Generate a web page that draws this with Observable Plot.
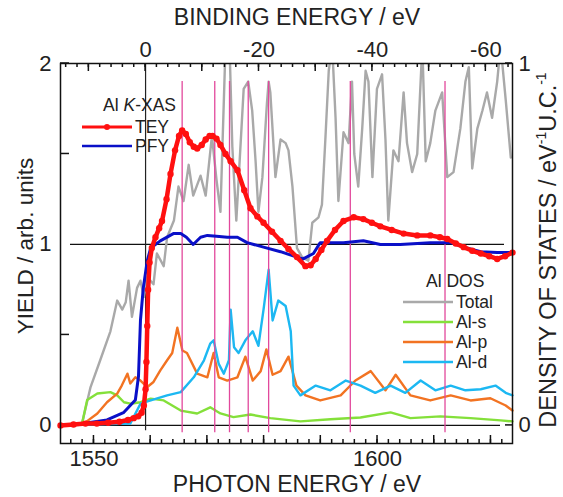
<!DOCTYPE html>
<html>
<head>
<meta charset="utf-8">
<script src="https://cdn.jsdelivr.net/npm/d3@7"></script>
<script src="https://cdn.jsdelivr.net/npm/@observablehq/plot@0.6"></script>
<style>
  body { margin: 0; background: white; }
  #wrap { position: relative; width: 563px; height: 497px; font-family: "Liberation Sans", Arial, sans-serif; color: #222; }
  .lab { position: absolute; white-space: nowrap; line-height: 1; }
  .rot { transform: translate(-50%, -50%) rotate(-90deg); transform-origin: center; }
  .leg { position: absolute; font-size: 17.5px; line-height: 1; white-space: nowrap; }
  .leg svg { position: absolute; overflow: visible; }
</style>
</head>
<body>
<div id="wrap"></div>
<script>
// ---------- data (photon energy in eV) ----------
const E0 = 1559.1;                     // binding energy zero (Fermi level) on photon-energy scale
const xDomain = [1544.1, 1623.8];
const yDomain = [-0.1, 2.0];
const bottomTickLabels = [1550, 1600];
const topTickLabels = [0, -20, -40, -60];
const leftTickLabels = [0, 1, 2];
const rightTickLabels = [0, 1];
const markerLines = [1565.55, 1571.3, 1573.9, 1577.2, 1580.8, 1595.2, 1611.9];

// Al K-XAS, TEY (yield)
const teyE = [1544.1,1546.4,1548.5,1550.5,1552.5,1554.5,1556.0,1557.0,1557.8,1558.4,1558.8,1559.1,1559.25,1559.4,1559.55,1559.8,1560.2,1560.85,1561.5,1562.0,1562.8,1563.5,1564.3,1565.0,1565.55,1566.2,1566.9,1567.6,1568.2,1569.0,1569.7,1570.4,1570.9,1571.6,1572.3,1573.2,1574.1,1575.3,1576.5,1577.6,1578.8,1579.9,1581.4,1582.9,1584.3,1585.8,1587.3,1588.2,1589.1,1590.1,1591.1,1592.5,1594.0,1595.8,1597.5,1599.0,1600.5,1602.5,1604.6,1607.0,1609.3,1611.0,1612.3,1613.8,1615.2,1616.7,1618.2,1619.7,1621.1,1622.5,1623.8];
const teyY = [0.00,0.005,0.01,0.01,0.015,0.02,0.03,0.04,0.05,0.07,0.11,0.20,0.35,0.55,0.75,0.90,0.98,1.04,1.09,1.13,1.25,1.39,1.52,1.60,1.63,1.61,1.565,1.54,1.53,1.55,1.58,1.60,1.60,1.585,1.55,1.50,1.46,1.41,1.30,1.20,1.155,1.12,1.07,1.02,0.975,0.93,0.88,0.885,0.92,0.97,1.02,1.08,1.13,1.15,1.14,1.12,1.10,1.08,1.06,1.05,1.05,1.04,1.03,1.005,0.985,0.965,0.95,0.935,0.92,0.935,0.955];

// Al K-XAS, PFY (yield)
const pfyE = [1544.1,1548.1,1552.3,1555.2,1557.3,1557.85,1558.2,1558.7,1559.4,1560.0,1561.7,1564.0,1565.3,1566.3,1567.5,1568.8,1570.0,1571.6,1573.5,1575.3,1577.0,1579.9,1582.9,1585.8,1586.9,1588.7,1589.9,1591.7,1594.0,1597.5,1600.5,1604.0,1609.3,1612.9,1615.2,1618.2,1621.1,1623.8];
const pfyY = [0.0,0.01,0.03,0.07,0.14,0.27,0.58,0.76,0.91,0.98,1.02,1.06,1.06,1.04,1.00,1.04,1.05,1.045,1.04,1.04,1.01,0.985,0.96,0.93,0.92,0.95,1.01,1.01,1.01,1.02,1.00,1.00,1.01,1.01,0.985,0.96,0.955,0.955];

// Al DOS, Total (eV^-1 U.C.^-1)
const totE = [1547.9,1549.4,1551.1,1552.9,1554.1,1555.0,1555.6,1556.1,1556.7,1557.6,1558.2,1558.8,1559.4,1560.5,1561.1,1562.3,1562.9,1564.1,1564.9,1565.8,1566.7,1567.5,1568.8,1569.7,1570.8,1571.6,1572.3,1573.2,1573.9,1574.4,1575.1,1576.4,1577.2,1577.9,1578.5,1579.0,1579.7,1580.5,1580.8,1581.1,1582.0,1582.9,1583.8,1584.3,1585.0,1585.8,1586.7,1587.8,1588.5,1589.6,1590.2,1590.8,1591.4,1592.0,1592.6,1593.1,1594.0,1594.9,1595.5,1595.9,1596.6,1597.3,1597.9,1598.4,1599.1,1599.9,1600.8,1601.4,1601.9,1602.8,1603.7,1604.6,1605.2,1606.1,1607.0,1607.9,1608.5,1609.3,1610.2,1611.4,1612.3,1613.4,1614.6,1615.5,1616.1,1616.7,1617.6,1618.5,1619.3,1620.2,1621.1,1621.7,1622.6,1623.5];
const totD = [0.005,0.106,0.18,0.26,0.345,0.32,0.34,0.40,0.30,0.38,0.40,0.355,0.41,0.39,0.475,0.44,0.52,0.566,0.66,0.62,0.72,0.635,0.69,0.635,0.80,0.68,0.59,1.05,1.05,0.77,0.566,0.93,0.95,0.87,0.73,0.59,0.686,0.89,0.95,0.92,0.686,0.79,0.78,0.76,0.66,0.49,0.465,0.455,0.56,0.575,0.61,0.79,0.98,1.05,0.85,0.62,0.81,0.78,0.95,0.75,0.66,0.82,0.98,0.95,0.686,0.93,0.97,0.79,0.566,0.76,0.73,0.92,0.78,0.70,0.75,1.05,0.73,0.78,0.87,0.92,0.686,0.70,0.82,0.95,0.99,0.71,0.82,0.87,0.92,0.85,0.95,1.05,0.90,0.74];

// Al-s
const sE = [1547.9,1548.8,1550.6,1552.9,1554.1,1555.3,1556.4,1558.2,1560.0,1562.3,1565.3,1568.2,1570.5,1572.3,1574.6,1577.6,1581.1,1586.4,1591.7,1597.0,1602.3,1605.8,1611.1,1616.4,1621.7,1623.8];
const sD = [0.005,0.07,0.088,0.092,0.083,0.064,0.06,0.064,0.074,0.069,0.041,0.033,0.05,0.033,0.023,0.03,0.02,0.011,0.017,0.022,0.036,0.02,0.025,0.02,0.014,0.011];

// Al-p
const pE = [1548.2,1550.6,1552.3,1554.1,1554.9,1555.9,1556.4,1557.3,1558.2,1559.4,1560.5,1561.7,1562.9,1563.8,1564.7,1565.6,1566.4,1568.2,1570.0,1571.1,1572.0,1573.5,1575.3,1576.7,1578.0,1579.4,1580.4,1581.5,1582.9,1584.3,1585.7,1587.3,1589.9,1593.5,1596.1,1598.8,1601.4,1603.2,1605.8,1609.3,1612.9,1616.4,1619.9,1622.6,1623.8];
const pD = [0.005,0.033,0.064,0.088,0.11,0.143,0.116,0.133,0.124,0.106,0.12,0.152,0.18,0.20,0.27,0.207,0.20,0.143,0.133,0.20,0.133,0.124,0.133,0.19,0.124,0.15,0.21,0.14,0.15,0.19,0.11,0.083,0.069,0.083,0.124,0.15,0.097,0.14,0.083,0.069,0.083,0.069,0.075,0.055,0.041];

// Al-d
const dE = [1544.1,1556.4,1558.2,1560.0,1562.9,1565.3,1567.6,1569.4,1570.5,1571.1,1572.0,1572.9,1573.8,1574.1,1574.7,1575.5,1576.7,1578.0,1579.0,1579.9,1580.8,1581.5,1582.5,1583.8,1584.7,1585.2,1586.4,1589.1,1591.7,1594.4,1597.0,1599.6,1602.3,1604.9,1607.6,1610.2,1612.9,1615.5,1618.2,1620.8,1622.6,1623.8];
const dD = [0,0.005,0.06,0.069,0.083,0.092,0.133,0.18,0.226,0.235,0.17,0.143,0.18,0.32,0.216,0.20,0.235,0.26,0.22,0.32,0.43,0.29,0.345,0.33,0.26,0.11,0.083,0.11,0.097,0.124,0.11,0.09,0.11,0.09,0.124,0.097,0.11,0.097,0.10,0.11,0.09,0.083];

// tick positions
const bottomMinor = d3.range(1546, 1624, 2), bottomMajor = d3.range(1550, 1621, 10);
const topMinorBE = d3.range(14, -65, -2), topMajorBE = d3.range(10, -65, -10);

// ---------- build tables ----------
const zip = (xs, ys) => xs.map((x, i) => ({x, v: ys[i]}));
const tey = zip(teyE, teyY), pfy = zip(pfyE, pfyY);
const tot = zip(totE, totD), als = zip(sE, sD), alp = zip(pE, pD), ald = zip(dE, dD);

const col = {tey: "#ff1010", pfy: "#0a10c8", tot: "#a9a9a9", s: "#84e03a", p: "#f27322", d: "#1cb8f2", mark: "#e2489c"};
const dosY = d => d.v * 2;   // DOS (right axis 0..1) shares the frame with yield (left axis 0..2)
const bePos = be => E0 - be; // binding energy -> photon energy

const W = 563, H = 497, ML = 60, MR = 51, MT = 63, MB = 54;
const FW = W - ML - MR;
const pxX = (xDomain[1] - xDomain[0]) / FW;

const plot = Plot.plot({
  width: W, height: H,
  marginLeft: ML, marginRight: MR, marginTop: MT, marginBottom: MB,
  x: {domain: xDomain},
  y: {domain: yDomain},
  style: {fontFamily: "Liberation Sans, Arial, sans-serif", fontSize: "22px", color: "#222", background: "white", overflow: "visible"},
  marks: [
    // reference lines
    Plot.ruleY([1], {x1: xDomain[0] + 10 * pxX, x2: xDomain[1] - 8 * pxX, stroke: "#111", strokeWidth: 1.2}),
    Plot.ruleY([0], {x1: xDomain[0], x2: xDomain[1] - 12 * pxX, stroke: "#111", strokeWidth: 1.2}),
    Plot.ruleX([E0], {y1: -0.03, y2: yDomain[1], stroke: "#222", strokeWidth: 1.2}),
    // DOS curves
    Plot.line(tot, {x: "x", y: dosY, stroke: col.tot, strokeWidth: 2.4, clip: true}),
    Plot.line(als, {x: "x", y: dosY, stroke: col.s, strokeWidth: 2.4}),
    Plot.line(alp, {x: "x", y: dosY, stroke: col.p, strokeWidth: 2.4}),
    Plot.line(ald, {x: "x", y: dosY, stroke: col.d, strokeWidth: 2.4}),
    // feature markers
    Plot.ruleX(markerLines, {y1: -0.04, y2: 1.9, stroke: col.mark, strokeWidth: 1.3}),
    // XAS
    Plot.line(pfy, {x: "x", y: "v", stroke: col.pfy, strokeWidth: 3}),
    Plot.line(tey, {x: "x", y: "v", stroke: col.tey, strokeWidth: 4.5}),
    Plot.dot(tey, {x: "x", y: "v", r: 3.2, fill: col.tey, stroke: "none"}),
    // frame
    Plot.frame({stroke: "#111", strokeWidth: 1.5}),
    // tick labels
    Plot.axisX({anchor: "bottom", ticks: bottomTickLabels, tickSize: 0, tickPadding: 7, tickFormat: d => String(d), label: null}),
    Plot.axisX({anchor: "top", ticks: topTickLabels.map(bePos), tickSize: 0, tickPadding: 7, tickFormat: d => String(Math.round(E0 - d)), label: null}),
    Plot.axisY({anchor: "left", ticks: leftTickLabels, tickSize: 0, tickPadding: 9, tickFormat: d => String(d), label: null}),
    Plot.axisY({anchor: "right", ticks: rightTickLabels.map(v => v * 2), tickSize: 0, tickPadding: 6, tickFormat: d => String(d / 2), label: null})
  ]
});

// inward tick marks, positioned with the plot's own scales
{
  const sx = plot.scale("x"), sy = plot.scale("y");
  const g = d3.select(plot).append("g").attr("stroke", "#111").attr("stroke-width", 1.5).attr("aria-label", "inward ticks");
  const yb = sy.apply(yDomain[0]), yt = sy.apply(yDomain[1]);
  const xl = sx.apply(xDomain[0]), xr = sx.apply(xDomain[1]);
  const vt = (vals, y0, dy) => g.selectAll(null).data(vals).join("line")
    .attr("x1", d => sx.apply(d)).attr("x2", d => sx.apply(d)).attr("y1", y0).attr("y2", y0 + dy);
  const ht = (vals, x0, dx) => g.selectAll(null).data(vals).join("line")
    .attr("y1", d => sy.apply(d)).attr("y2", d => sy.apply(d)).attr("x1", x0).attr("x2", x0 + dx);
  vt(bottomMinor, yb, -4);
  vt(bottomMajor, yb, -8);
  vt(topMinorBE.map(bePos), yt, 4);
  vt(topMajorBE.map(bePos), yt, 8);
  ht([0.5, 1.5, 2], xl, 9);
  ht([0, 2], xr, -7);
}

const wrap = document.getElementById("wrap");
wrap.appendChild(plot);

function addLabel(html, css, cls = "lab") {
  const el = document.createElement("div");
  el.className = cls;
  el.innerHTML = html;
  Object.assign(el.style, css);
  wrap.appendChild(el);
  return el;
}
// axis titles
addLabel("BINDING ENERGY / eV", {left: "297px", top: "17px", fontSize: "23px", transform: "translate(-50%,-50%)"});
addLabel("PHOTON ENERGY / eV", {left: "297px", top: "484px", fontSize: "23px", transform: "translate(-50%,-50%)"});
addLabel("YIELD / arb. units", {left: "26px", top: "246px", fontSize: "22.5px"}, "lab rot");
addLabel("DENSITY OF STATES / eV<sup style='font-size:14px;vertical-align:10px'>-1</sup>U.C.<sup style='font-size:14px;vertical-align:10px'>-1</sup>", {left: "547px", top: "250px", fontSize: "23.5px"}, "lab rot");

// legends
function legendRow(x, y, text, color, withDot) {
  const el = addLabel("", {left: x + "px", top: (y - 9) + "px"}, "leg");
  el.innerHTML = `<svg width="50" height="18" style="left:0;top:0"><line x1="0" y1="9" x2="50" y2="9" stroke="${color}" stroke-width="${withDot ? 3 : 2.4}"/>${withDot ? `<circle cx="25" cy="9" r="3" fill="${color}"/>` : ""}</svg><span style="position:absolute;left:53px;top:0.5px">${text}</span>`;
}
addLabel("Al <i>K</i>-XAS", {left: "103px", top: "97px"}, "leg");
legendRow(82, 127, "TEY", col.tey, true);
legendRow(82, 146, "PFY", col.pfy, false);
addLabel("Al DOS", {left: "426px", top: "273px"}, "leg");
legendRow(403, 302, "Total", col.tot, false);
legendRow(403, 322, "Al-s", col.s, false);
legendRow(403, 342, "Al-p", col.p, false);
legendRow(403, 362, "Al-d", col.d, false);
</script>
</body>
</html>
